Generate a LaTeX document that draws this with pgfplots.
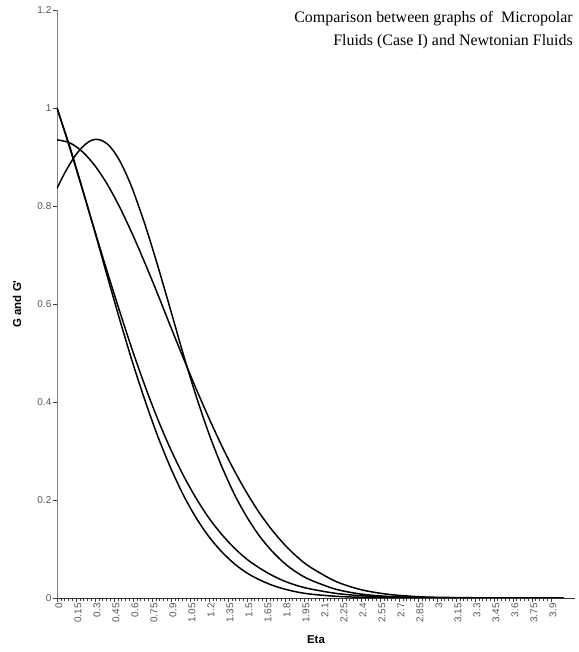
\documentclass[border=0pt]{standalone}
\usepackage{pgfplots}
\pgfplotsset{compat=1.18}
\usepackage{fontspec}
\setmainfont{Liberation Serif}
\newfontfamily\arial{Liberation Sans}
\definecolor{tickgray}{RGB}{85,85,85}
\definecolor{axgray}{RGB}{130,130,130}
\begin{document}
\begin{tikzpicture}
\begin{axis}[
  at={(0,0)}, anchor=south west,
  scale only axis, width=518bp, height=588bp,
  xmin=0, xmax=4.09, ymin=0, ymax=1.2,
  axis lines=left, axis line style={-, axgray, line width=0.6pt},
  x axis line style={black!80, line width=0.8pt},
  /pgf/number format/assume math mode=true,
  xtick={0,0.15,0.3,0.45,0.6,0.75,0.9,1.05,1.2,1.35,1.5,1.65,1.8,1.95,2.1,2.25,2.4,2.55,2.7,2.85,3,3.15,3.3,3.45,3.6,3.75,3.9},
  xticklabels={0,0.15,0.3,0.45,0.6,0.75,0.9,1.05,1.2,1.35,1.5,1.65,1.8,1.95,2.1,2.25,2.4,2.55,2.7,2.85,3,3.15,3.3,3.45,3.6,3.75,3.9},
  minor x tick num=4,
  ytick={0,0.2,0.4,0.6,0.8,1,1.2},
  yticklabels={0,0.2,0.4,0.6,0.8,1,1.2},
  tick align=outside,
  major tick length=3.5bp, minor tick length=3bp,
  every tick/.style={black!75, line width=0.5pt},
  x tick label style={font=\arial\fontsize{10}{12}\selectfont, text=tickgray, rotate=90, anchor=east, inner sep=1.5bp, yshift=-2bp},
  y tick label style={font=\arial\fontsize{10}{12}\selectfont, text=tickgray, inner sep=2bp},
  xlabel={\textbf{Eta}},
  xlabel style={font=\arial\fontsize{11.5}{13}\selectfont, at={(axis description cs:0.5,0)}, anchor=center, yshift=-42bp},
  ylabel={\textbf{G and G'}},
  ylabel style={font=\arial\fontsize{11.5}{13}\selectfont, at={(axis description cs:0,0.5)}, anchor=center, rotate=0, yshift=40bp},
  clip=true,
]
% Newtonian G' (steep, left)
\addplot[black, line width=1.5pt, smooth] coordinates {(0,1) (0.1,0.919) (0.2,0.834) (0.3,0.748) (0.4,0.663) (0.5,0.581) (0.6,0.502) (0.7,0.429) (0.8,0.362) (0.9,0.302) (1.0,0.249) (1.1,0.203) (1.2,0.163) (1.3,0.130) (1.4,0.102) (1.5,0.079) (1.6,0.061) (1.7,0.046) (1.8,0.034) (1.9,0.025) (2.0,0.0185) (2.2,0.0095) (2.4,0.0046) (2.6,0.0022) (2.8,0.001) (3.0,0.0004) (3.5,0.0001) (4.0,0)};
\addplot[black, line width=1.5pt, smooth] coordinates {(0,1) (0.1,0.922) (0.2,0.836) (0.3,0.746) (0.4,0.654) (0.5,0.564) (0.6,0.478) (0.7,0.399) (0.8,0.327) (0.9,0.264) (1.0,0.209) (1.1,0.163) (1.2,0.125) (1.3,0.0945) (1.4,0.070) (1.5,0.051) (1.6,0.037) (1.7,0.026) (1.8,0.018) (1.9,0.012) (2.0,0.008) (2.2,0.0035) (2.4,0.0014) (2.6,0.0005) (2.8,0.0002) (3.0,0.0001) (4.0,0)};
% flat-topped curve
\addplot[black, line width=1.5pt, smooth] coordinates {(0,0.935) (0.1,0.929) (0.2,0.911) (0.3,0.882) (0.4,0.843) (0.5,0.795) (0.6,0.740) (0.7,0.680) (0.8,0.617) (0.9,0.552) (1.0,0.488) (1.1,0.426) (1.2,0.367) (1.3,0.311) (1.4,0.260) (1.5,0.214) (1.6,0.173) (1.7,0.138) (1.8,0.108) (1.9,0.083) (2.0,0.063) (2.2,0.034) (2.4,0.017) (2.6,0.008) (2.8,0.0035) (3.0,0.0014) (3.5,0.0001) (4.0,0)};
% curve with a maximum
\addplot[black, line width=1.5pt, smooth] coordinates {(0,0.836) (0.05,0.862) (0.1,0.885) (0.15,0.905) (0.2,0.920) (0.25,0.931) (0.3,0.936) (0.35,0.934) (0.4,0.926) (0.45,0.911) (0.5,0.890) (0.55,0.863) (0.6,0.832) (0.7,0.758) (0.8,0.674) (0.9,0.585) (1.0,0.495) (1.1,0.411) (1.2,0.335) (1.3,0.269) (1.4,0.212) (1.5,0.165) (1.6,0.126) (1.7,0.095) (1.8,0.070) (1.9,0.051) (2.0,0.037) (2.2,0.018) (2.4,0.008) (2.6,0.0035) (2.8,0.0014) (3.0,0.0005) (3.5,0.0001) (4.0,0)};
\end{axis}
\node[anchor=north east, align=right, font=\fontsize{16}{23}\selectfont, inner sep=0pt] at (516bp,587bp) {Comparison between graphs of \ Micropolar\\Fluids (Case I) and Newtonian Fluids};
\pgfresetboundingbox
\path[use as bounding box] (-57bp,-54bp) rectangle (522bp,598bp);
\end{tikzpicture}
\end{document}
